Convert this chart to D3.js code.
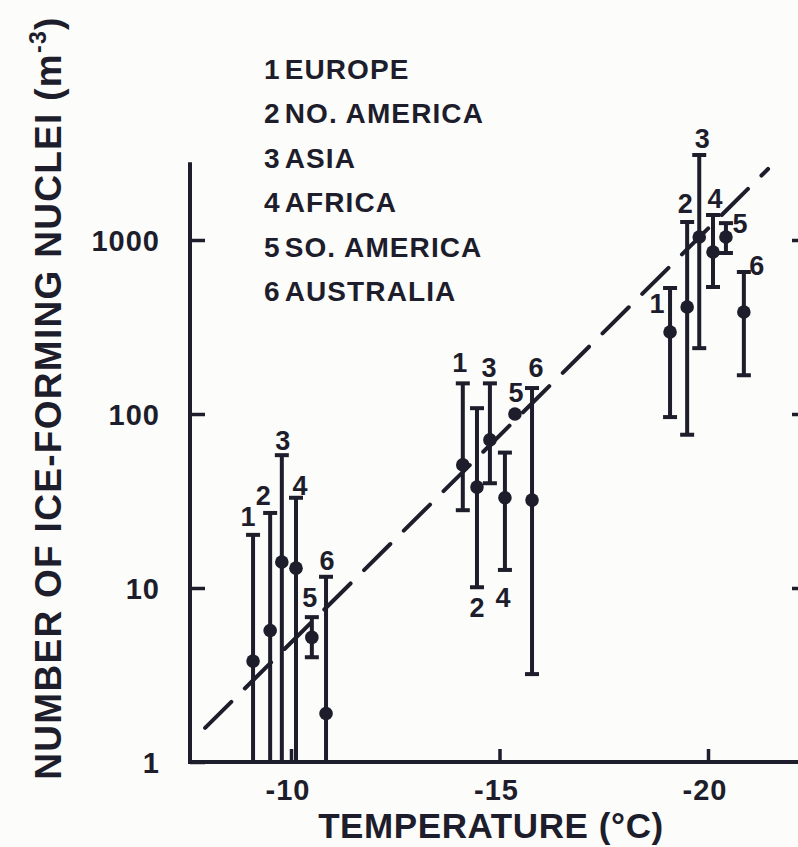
<!DOCTYPE html>
<html>
<head>
<meta charset="utf-8">
<script src="https://cdn.jsdelivr.net/npm/d3@7"></script>
<style>
  html, body { margin: 0; padding: 0; background: #fcfcfa; }
  svg { display: block; }
  text { font-family: "Liberation Sans", Arial, sans-serif; font-weight: bold; fill: #1d1d2b; }
</style>
</head>
<body>
<svg id="chart" width="798" height="847"></svg>
<script>
// Continents (legend order, numbered 1-6)
const continents = ["EUROPE", "NO. AMERICA", "ASIA", "AFRICA", "SO. AMERICA", "AUSTRALIA"];

// Plotted temperature of each continent's point in the three groups (°C, shifted apart for legibility)
const tempsGroupA = [-9.09, -9.50, -9.78, -10.12, -10.50, -10.84];
const tempsGroupB = [-14.12, -14.46, -14.77, -15.13, -15.37, -15.78];
const tempsGroupC = [-19.09, -19.50, -19.79, -20.12, -20.43, -20.86];

// Mean ice-nuclei concentration (m^-3)
const meanGroupA = [3.8, 5.7, 14.1, 13.0, 5.2, 1.9];
const meanGroupB = [51, 38, 71, 33, 100, 32];
const meanGroupC = [296, 412, 1040, 853, 1040, 386];

// Range of observed values (m^-3); null where no range is drawn
const lowGroupA = [1, 1, 1, 1, 4.0, 1];
const highGroupA = [20.2, 27, 58, 33, 6.8, 11.6];
const lowGroupB = [28, 10.1, 40, 12.7, null, 3.2];
const highGroupB = [150, 108, 150, 60, null, 141];
const lowGroupC = [96, 76, 239, 537, 842, 167];
const highGroupC = [530, 1269, 3080, 1392, 1250, 655];

// Dashed trend line end points
const trendTemps = [-7.94, -21.44];
const trendValues = [1.57, 2560];

// Axis ticks
const xTicks = [-10, -15, -20];
const yTicks = [1, 10, 100, 1000];

// Where each numbered tag sits: anchor ("top" cap, "bottom" cap or "mid" dot) and pixel offsets
const tagPlacementA = [["top", -5, -9], ["top", -7, -8], ["top", 1, -5], ["top", 4, -3], ["top", -2, -10], ["top", 1, -7]];
const tagPlacementB = [["top", -3, -11], ["bottom", 0, 30], ["top", -1, -6], ["bottom", -2, 37], ["mid", 1, -12], ["top", 4, -11]];
const tagPlacementC = [["top", -13, 25], ["top", -2, -9], ["top", 3, -7], ["top", 2, -7], ["mid", 14, -4], ["top", 13, 3]];

const ink = "#1d1d2b";
const svg = d3.select("#chart");

const x = d3.scaleLinear().domain([-10, -20]).range([291, 708]);
const y = d3.scaleLog().domain([1, 1000]).range([762, 240]);

const xLeft = 190, xRight = 801, yBottom = 762, yTop = y(2800);

// Assemble the groups
const groups = [
  { temps: tempsGroupA, mean: meanGroupA, low: lowGroupA, high: highGroupA, tags: tagPlacementA },
  { temps: tempsGroupB, mean: meanGroupB, low: lowGroupB, high: highGroupB, tags: tagPlacementB },
  { temps: tempsGroupC, mean: meanGroupC, low: lowGroupC, high: highGroupC, tags: tagPlacementC }
];
const points = [];
groups.forEach(g => {
  continents.forEach((c, i) => {
    points.push({ id: i + 1, t: g.temps[i], v: g.mean[i], lo: g.low[i], hi: g.high[i], tag: g.tags[i] });
  });
});

// Axes
const axisG = svg.append("g");
axisG.append("line").attr("x1", xLeft).attr("x2", xLeft).attr("y1", yTop).attr("y2", yBottom + 2)
  .attr("stroke", ink).attr("stroke-width", 4);
axisG.append("line").attr("x1", xLeft - 2).attr("x2", xRight).attr("y1", yBottom).attr("y2", yBottom)
  .attr("stroke", ink).attr("stroke-width", 4);

const yAxis = d3.axisRight(y).tickValues(yTicks).tickSize(15).tickFormat("");
const yAxisG = svg.append("g").attr("transform", `translate(${xLeft},0)`).call(yAxis);
yAxisG.select(".domain").remove();
yAxisG.selectAll(".tick line").attr("stroke", ink).attr("stroke-width", 3.5);

const yAxisR = d3.axisLeft(y).tickValues(yTicks.slice(1)).tickSize(9).tickFormat("");
const yAxisRG = svg.append("g").attr("transform", `translate(${xRight},0)`).call(yAxisR);
yAxisRG.select(".domain").remove();
yAxisRG.selectAll(".tick line").attr("stroke", ink).attr("stroke-width", 3.5);

const xAxis = d3.axisTop(x).tickValues(xTicks).tickSize(13).tickFormat("");
const xAxisG = svg.append("g").attr("transform", `translate(0,${yBottom})`).call(xAxis);
xAxisG.select(".domain").remove();
xAxisG.selectAll(".tick line").attr("stroke", ink).attr("stroke-width", 3.5);

// Tick labels
svg.append("g").selectAll("text").data(yTicks).join("text")
  .attr("x", 160).attr("y", d => y(d) + 11)
  .attr("text-anchor", "end").attr("font-size", 29).attr("letter-spacing", 1)
  .text(d => String(d));

svg.append("g").selectAll("text").data(xTicks).join("text")
  .attr("x", d => x(d) - 3).attr("y", 800)
  .attr("text-anchor", "middle").attr("font-size", 29).attr("letter-spacing", 1)
  .text(d => String(d));

// Axis titles
svg.append("text").attr("x", 491).attr("y", 838).attr("text-anchor", "middle")
  .attr("font-size", 35).attr("letter-spacing", 0.6).text("TEMPERATURE (°C)");

const yTitle = svg.append("text").attr("transform", "translate(61,398) rotate(-90)")
  .attr("text-anchor", "middle").attr("font-size", 37).attr("letter-spacing", 1.3);
yTitle.append("tspan").text("NUMBER OF ICE-FORMING NUCLEI (m");
yTitle.append("tspan").attr("font-size", 23).attr("dy", -15).text("-3");
yTitle.append("tspan").attr("dy", 15).text(")");

// Legend
const legend = svg.append("g").selectAll("text").data(continents).join("text")
  .attr("x", 264).attr("y", (d, i) => 79 + i * 44.4).attr("font-size", 28).attr("letter-spacing", 1.1);
legend.append("tspan").text((d, i) => String(i + 1));
legend.append("tspan").attr("dx", 4).text(d => d);

// Dashed trend line
const trend = trendTemps.map((t, i) => [x(t), y(trendValues[i])]);
svg.append("path").attr("d", d3.line()(trend))
  .attr("fill", "none").attr("stroke", ink).attr("stroke-width", 4)
  .attr("stroke-dasharray", "37 19").attr("stroke-linecap", "round");

// Ranges, caps and means
const marks = svg.append("g");
const ranged = points.filter(p => p.lo != null && p.hi != null);
marks.selectAll("line.range").data(ranged).join("line").attr("class", "range")
  .attr("x1", p => x(p.t)).attr("x2", p => x(p.t))
  .attr("y1", p => y(p.hi)).attr("y2", p => Math.min(y(p.lo), yBottom))
  .attr("stroke", ink).attr("stroke-width", 4);
const caps = ranged.flatMap(p => [{ p, v: p.hi }, { p, v: p.lo }]);
marks.selectAll("line.cap").data(caps).join("line").attr("class", "cap")
  .attr("x1", c => x(c.p.t) - 7).attr("x2", c => x(c.p.t) + 7)
  .attr("y1", c => y(c.v)).attr("y2", c => y(c.v))
  .attr("stroke", ink).attr("stroke-width", 4);
marks.selectAll("circle").data(points).join("circle")
  .attr("cx", p => x(p.t)).attr("cy", p => y(p.v)).attr("r", 6.8).attr("fill", ink);

// Numbered tags
marks.selectAll("text").data(points).join("text")
  .attr("x", p => x(p.t) + p.tag[1])
  .attr("y", p => {
    const base = p.tag[0] === "top" ? y(p.hi) : p.tag[0] === "bottom" ? y(p.lo) : y(p.v);
    return base + p.tag[2];
  })
  .attr("text-anchor", "middle").attr("font-size", 27)
  .text(p => String(p.id));
</script>
</body>
</html>
